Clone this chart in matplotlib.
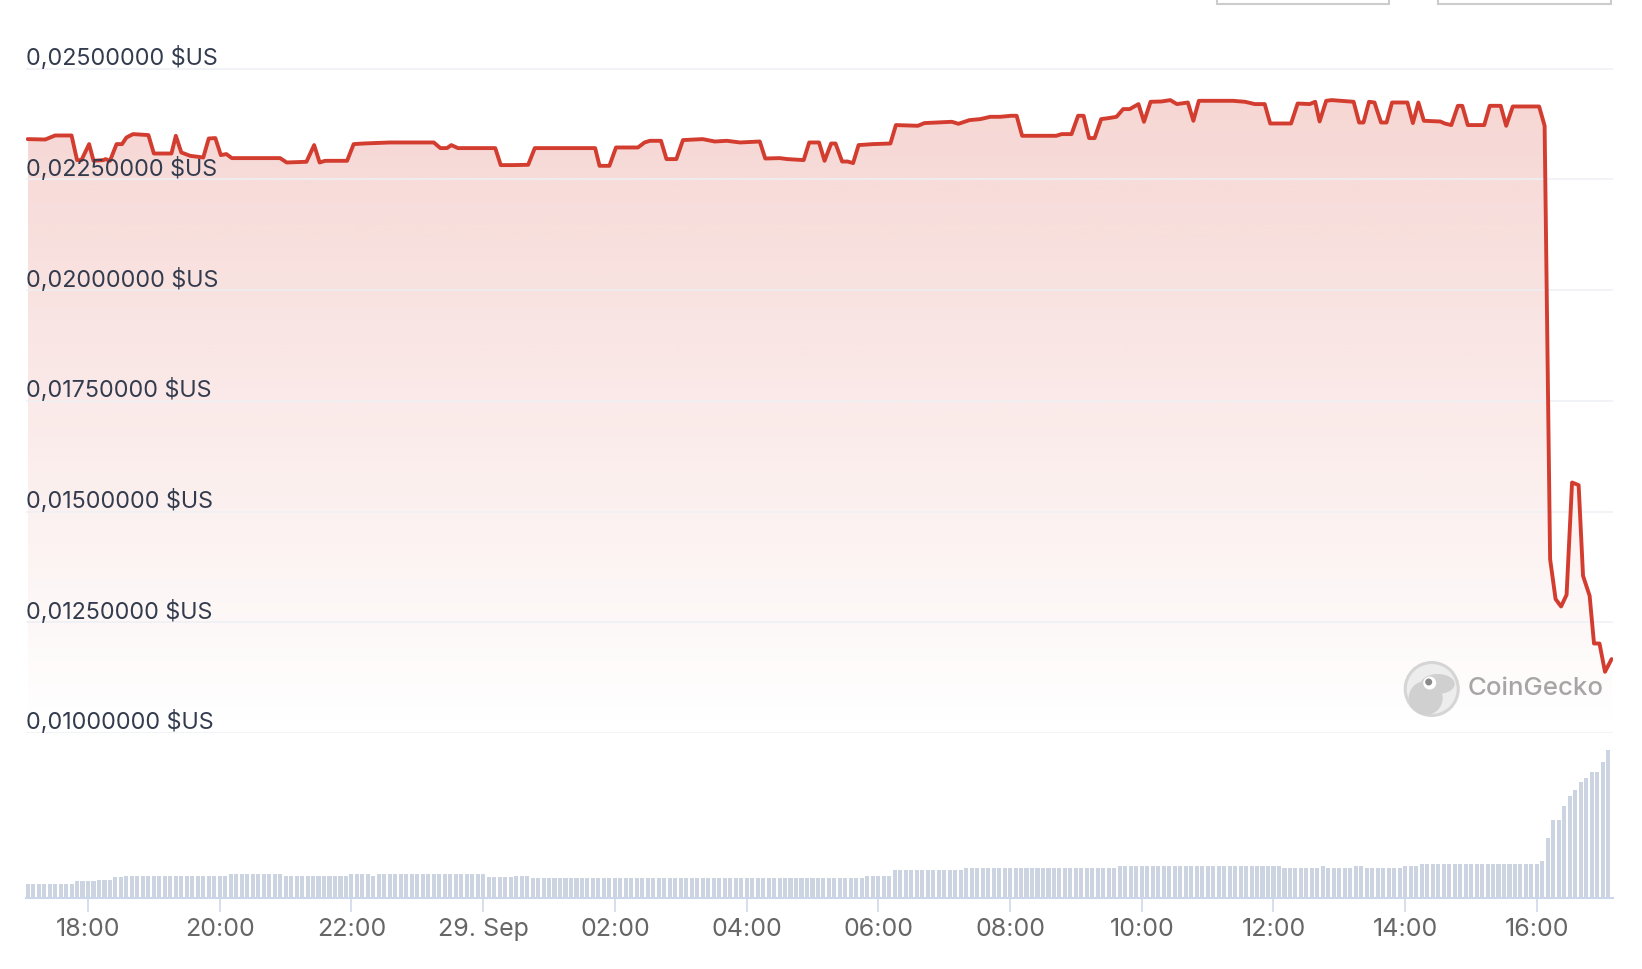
import numpy as np
import pandas as pd
import matplotlib
matplotlib.use("Agg")
import matplotlib.pyplot as plt
import matplotlib.dates as mdates
from matplotlib.patches import Polygon, Rectangle, Circle, Ellipse
from matplotlib.ticker import FuncFormatter
from matplotlib.transforms import IdentityTransform
from matplotlib.colors import to_rgb

plt.rcParams['font.family'] = ['Inter', 'DejaVu Sans']

# ---------------- data ----------------
base_time = pd.Timestamp("2023-09-28 17:00")

# price points: minutes after base_time, price in USD
price_minutes = [
    5, 21, 30, 45, 50, 54, 61, 65, 74, 76,
    80, 86, 91, 95, 101, 115, 120, 136, 140, 145,
    153, 165, 170, 176, 181, 186, 191, 235, 241, 259,
    266, 271, 276, 296, 302, 311, 335, 375, 381, 387,
    391, 397, 431, 436, 447, 461, 467, 522, 526, 535,
    541, 561, 567, 572, 582, 587, 596, 602, 620, 631,
    642, 654, 672, 677, 690, 697, 712, 717, 726, 731,
    737, 741, 747, 752, 757, 762, 775, 791, 796, 816,
    822, 833, 847, 853, 863, 873, 882, 891, 901, 906,
    911, 942, 947, 956, 962, 967, 972, 977, 983, 990,
    997, 1003, 1009, 1017, 1022, 1028, 1038, 1046, 1052, 1062,
    1067, 1072, 1103, 1114, 1123, 1132, 1137, 1156, 1162, 1173,
    1178, 1182, 1188, 1193, 1213, 1218, 1222, 1227, 1232, 1238,
    1243, 1248, 1262, 1267, 1272, 1277, 1292, 1296, 1302, 1308,
    1312, 1317, 1332, 1337, 1347, 1352, 1358, 1382, 1387, 1392,
    1397, 1402, 1407, 1412, 1418, 1422, 1428, 1432, 1437, 1442,
    1448,
]
price_usd = [
    0.023412, 0.023403, 0.023494, 0.023494, 0.022938, 0.022938, 0.023299, 0.022922, 0.022938, 0.022961,
    0.022922, 0.023299, 0.023299, 0.023448, 0.023525, 0.023503, 0.023087, 0.023087, 0.023487, 0.023110,
    0.023035, 0.022997, 0.023426, 0.023435, 0.023051, 0.023074, 0.022983, 0.022983, 0.022884, 0.022900,
    0.023277, 0.022884, 0.022922, 0.022922, 0.023299, 0.023313, 0.023336, 0.023336, 0.023209, 0.023209,
    0.023277, 0.023209, 0.023209, 0.022825, 0.022825, 0.022832, 0.023209, 0.023209, 0.022809, 0.022809,
    0.023223, 0.023223, 0.023336, 0.023374, 0.023374, 0.022961, 0.022961, 0.023390, 0.023412, 0.023358,
    0.023374, 0.023336, 0.023358, 0.022974, 0.022983, 0.022961, 0.022938, 0.023336, 0.023336, 0.022922,
    0.023313, 0.023313, 0.022906, 0.022906, 0.022870, 0.023277, 0.023299, 0.023313, 0.023729, 0.023713,
    0.023774, 0.023787, 0.023803, 0.023758, 0.023841, 0.023864, 0.023916, 0.023916, 0.023939, 0.023939,
    0.023487, 0.023487, 0.023525, 0.023525, 0.023939, 0.023939, 0.023435, 0.023435, 0.023864, 0.023887,
    0.023916, 0.024090, 0.024090, 0.024203, 0.023803, 0.024255, 0.024262, 0.024293, 0.024203, 0.024239,
    0.023826, 0.024277, 0.024277, 0.024255, 0.024203, 0.024203, 0.023765, 0.023765, 0.024216, 0.024203,
    0.024255, 0.023810, 0.024277, 0.024293, 0.024255, 0.023787, 0.023787, 0.024255, 0.024239, 0.023787,
    0.023787, 0.024239, 0.024239, 0.023774, 0.024239, 0.023826, 0.023810, 0.023765, 0.023729, 0.024164,
    0.024164, 0.023729, 0.023729, 0.024164, 0.024164, 0.023713, 0.024149, 0.024149, 0.023713, 0.013927,
    0.013024, 0.012857, 0.013121, 0.015657, 0.015598, 0.013550, 0.013098, 0.012021, 0.012021, 0.011382,
    0.011669,
]

# 24h volume bars (relative units), one bar every 5 minutes starting 17:05
volume_first_minute = 5
volume_step_minutes = 5
volume = [
    143, 143, 143, 143, 143, 143, 143, 143, 143,
    167, 167, 167, 167,
    183, 183, 183,
    207, 207,
    223, 223, 223, 223, 223, 223, 223, 223, 223, 223,
    223, 223, 223, 223, 223, 223, 223, 223, 223,
    243, 243, 243, 243, 243, 243, 243, 243, 243, 243,
    223, 223, 223, 223, 223, 223, 223, 223, 223, 223, 223, 223,
    243, 243, 243, 243,
    223,
    243, 243, 243, 243, 243, 243, 243, 243, 243, 243,
    243, 243, 243, 243, 243, 243, 243, 243, 243, 243,
    207, 207, 207, 207, 207,
    223, 223, 223,
    205, 205, 205, 205, 205, 205, 205, 205, 205, 205,
    205, 205, 205, 205, 205, 205, 205, 205, 205, 205,
    205, 205, 205, 205, 205, 205, 205, 205, 205, 205,
    205, 205, 205, 205, 205, 205, 205, 205, 205, 205,
    205, 205, 205, 205, 205, 205, 205, 205, 205, 205,
    205, 205, 205, 205, 205, 205, 205, 205, 205, 205,
    205,
    223, 223, 223, 223, 223,
    283, 283, 283, 283, 283, 283, 283, 283, 283, 283,
    283, 283, 283,
    303, 303, 303, 303, 303, 303, 303, 303, 303, 303,
    303, 303, 303, 303, 303, 303, 303, 303, 303, 303,
    303, 303, 303, 303, 303, 303, 303, 303,
    323, 323, 323, 323, 323, 323, 323, 323, 323, 323,
    323, 323, 323, 323, 323, 323, 323, 323, 323, 323,
    323, 323, 323, 323, 323, 323, 323, 323, 323, 323,
    300, 300, 300, 300, 300, 300, 300,
    323,
    300, 300, 300, 300, 300,
    323, 323,
    300, 300, 300, 300, 300, 300, 300,
    323, 323, 323,
    343, 343, 343, 343, 343, 343, 343, 343, 343, 343,
    343, 343, 343, 343, 343, 343, 343, 343, 343, 343,
    343, 343,
    367, 600, 783, 783, 923, 1023, 1083, 1163, 1203, 1263, 1263, 1363, 1483,
]

price_ticks = [0.010, 0.0125, 0.015, 0.0175, 0.020, 0.0225, 0.025]

# ---------------- styling ----------------
LINE_COLOR = "#d33d30"
GRID_COLOR = "#edf0f5"
AXIS_COLOR = "#ccd6eb"
BAR_COLOR = "#ccd4e1"
YLABEL_COLOR = "#333c4e"
XLABEL_COLOR = "#666666"

W, H = 1642, 970
fig = plt.figure(figsize=(W / 100, H / 100), dpi=100)
fig.patch.set_facecolor("white")

# pixel layout (from top): price panel 2..734, volume panel 742..899
ax = fig.add_axes([26 / W, (H - 734) / H, 1587 / W, 732 / H])
axv = fig.add_axes([26 / W, (H - 899) / H, 1587 / W, 157 / H], sharex=ax)

t = mdates.date2num(base_time + pd.to_timedelta(price_minutes, unit="min"))
p = np.asarray(price_usd)

vol_minutes = volume_first_minute + volume_step_minutes * np.arange(len(volume))
tv = mdates.date2num(base_time + pd.to_timedelta(vol_minutes, unit="min"))

xmin = mdates.date2num(base_time + pd.Timedelta(minutes=3.5))
xmax = mdates.date2num(base_time + pd.Timedelta(minutes=1449.3))

# ---- price panel ----
ymin, ymax = 0.010, 0.026531
for s in ax.spines.values():
    s.set_visible(False)
ax.set_yticks(price_ticks)
ax.yaxis.grid(True, color=GRID_COLOR, lw=1.1, zorder=0)
ax.tick_params(left=False, labelleft=False, bottom=False, labelbottom=False)
ax.set_facecolor("none")

# gradient area under the line
verts = np.column_stack([np.r_[t[0], t, t[-1]], np.r_[ymin, p, ymin]])
poly = Polygon(verts, closed=True, facecolor="none", edgecolor="none")
ax.add_patch(poly)
n = 256
grad = np.zeros((n, 1, 4))
grad[:, 0, :3] = to_rgb(LINE_COLOR)
grad[:, 0, 3] = np.linspace(0.21, 0.0, n)
im = ax.imshow(grad, aspect="auto", extent=[t[0], t[-1], ymin, p.max()],
               origin="upper", zorder=1, interpolation="bilinear")
im.set_clip_path(poly)

ax.plot(t, p, color=LINE_COLOR, lw=2.8, solid_joinstyle="round",
        solid_capstyle="round", zorder=3)

for v in price_ticks:
    lab = f"{v:.8f}".replace(".", ",") + " $US"
    ax.annotate(lab, xy=(0, v), xycoords=("axes fraction", "data"),
                xytext=(0, 8.4), textcoords="offset points",
                ha="left", va="center", fontsize=16.8, color=YLABEL_COLOR, zorder=6)

ax.set_xlim(xmin, xmax)
ax.set_ylim(ymin, ymax)

# ---- volume panel ----
axv.bar(tv, volume, width=3.7 / 1440, color=BAR_COLOR, align="center", zorder=2)
axv.set_ylim(0, 1570)
for k in ("top", "left", "right"):
    axv.spines[k].set_visible(False)
axv.spines["bottom"].set_color(AXIS_COLOR)
axv.spines["bottom"].set_linewidth(1.5)
axv.spines["bottom"].set_zorder(3)
axv.set_yticks([])
axv.set_facecolor("none")

axv.xaxis.set_major_locator(mdates.HourLocator(byhour=range(0, 24, 2)))


def fmt(x, pos=None):
    d = mdates.num2date(x)
    if d.hour == 0 and d.minute == 0:
        return d.strftime("%d. %b").lstrip("0")
    return d.strftime("%H:%M")


axv.xaxis.set_major_formatter(FuncFormatter(fmt))
axv.tick_params(axis="x", length=10, width=1.1, color=AXIS_COLOR,
                labelsize=18, labelcolor=XLABEL_COLOR, pad=4)
axv.set_xlim(xmin, xmax)

# ---- CoinGecko watermark ----
idt = IdentityTransform()
cx, cy = 1431.7, H - 690
fig.add_artist(Circle((cx, cy), 26.5, transform=idt, facecolor="#ededed",
                      edgecolor="#d5d5d5", lw=2.2, zorder=10))
fig.add_artist(Ellipse((cx - 6, cy - 9), 34, 34, transform=idt,
                       facecolor="#d0d0d0", edgecolor="none", zorder=11))
fig.add_artist(Ellipse((cx + 6, cy + 5), 34, 20, transform=idt,
                       facecolor="#d0d0d0", edgecolor="none", zorder=11))
fig.add_artist(Circle((cx - 2, cy + 6), 6.5, transform=idt,
                      facecolor="white", edgecolor="none", zorder=12))
fig.add_artist(Circle((cx - 3, cy + 7), 3.5, transform=idt,
                      facecolor="#8a8a8a", edgecolor="none", zorder=13))
fig.text(1468 / W, (H - 689) / H, "CoinGecko", ha="left", va="center",
         fontsize=18.6, color="#a6a6a6", fontweight="medium", zorder=12)

# ---- partial buttons at the top ----
for x0, x1 in [(1217, 1389), (1438, 1611)]:
    fig.add_artist(Rectangle((x0, H - 4.7), x1 - x0, 30, transform=idt,
                             facecolor="white", edgecolor="#cccccc", lw=1.5,
                             clip_on=False, zorder=10))

fig.savefig("out.png", dpi=100, facecolor="white")
